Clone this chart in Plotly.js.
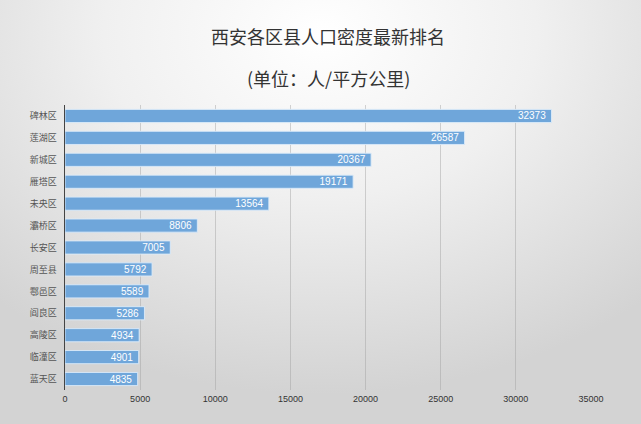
<!DOCTYPE html>
<html>
<head>
<meta charset="utf-8">
<script src="https://cdn.plot.ly/plotly-3.0.1.min.js"></script>
<style>
  html, body { margin: 0; padding: 0; }
  #chart {
    width: 641px; height: 424px;
    background: radial-gradient(ellipse 75% 85% at 50% 8%, #ffffff 0%, #f0f0f0 45%, #d3d3d3 100%);
  }
</style>
</head>
<body>
<div id="chart"></div>
<script>
const districts = ["碑林区","莲湖区","新城区","雁塔区","未央区","灞桥区","长安区","周至县","鄠邑区","阎良区","高陵区","临潼区","蓝天区"];
const density = [32373, 26587, 20367, 19171, 13564, 8806, 7005, 5792, 5589, 5286, 4934, 4901, 4835];
const xTicks = [0, 5000, 10000, 15000, 20000, 25000, 30000, 35000];
const titleText = "西安各区县人口密度最新排名";
const subtitleText = "(单位：人/平方公里)";

const trace = {
  type: "bar",
  orientation: "h",
  y: districts,
  x: density,
  text: density.map(v => String(v) + "\u00a0"),
  textposition: "inside",
  insidetextanchor: "end",
  textangle: 0,
  constraintext: "none",
  textfont: { family: "Liberation Sans, Arial, sans-serif", size: 10, color: "#ffffff" },
  marker: { color: "rgb(111,166,218)", line: { color: "rgba(220,235,250,0.9)", width: 1 } },
  hoverinfo: "none",
  cliponaxis: false
};

const layout = {
  width: 641, height: 424,
  paper_bgcolor: "rgba(0,0,0,0)",
  plot_bgcolor: "rgba(0,0,0,0)",
  margin: { l: 65, r: 50, t: 105, b: 34 },
  bargap: 0.4,
  showlegend: false,
  uniformtext: { minsize: 10, mode: "show" },
  xaxis: {
    range: [0, 35000],
    tickvals: xTicks,
    ticktext: xTicks.map(String),
    showgrid: true,
    gridcolor: "rgba(160,160,160,0.45)",
    gridwidth: 1,
    zeroline: false,
    showline: false,
    ticks: "outside",
    ticklen: 0,
    tickfont: { family: "Liberation Sans, Arial, sans-serif", size: 9, color: "#333333" },
    fixedrange: true
  },
  yaxis: {
    autorange: "reversed",
    showgrid: false,
    showline: true,
    linecolor: "#444444",
    linewidth: 1.5,
    ticks: "",
    ticklabelstandoff: 5,
    tickfont: { family: "Noto Sans CJK SC, sans-serif", size: 9, color: "#555555" },
    fixedrange: true
  },
  annotations: [
    { text: titleText, xref: "paper", yref: "paper", x: 0.5, y: 1, xanchor: "center", yanchor: "middle",
      yshift: 69, showarrow: false, font: { family: "Noto Sans CJK SC, sans-serif", size: 18, color: "#333333" } },
    { text: subtitleText, xref: "paper", yref: "paper", x: 0.5, y: 1, xanchor: "center", yanchor: "middle",
      yshift: 27, showarrow: false, font: { family: "Noto Sans CJK SC, sans-serif", size: 18, color: "#333333" } }
  ]
};

Plotly.newPlot("chart", [trace], layout, { displayModeBar: false, staticPlot: true });
</script>
</body>
</html>
